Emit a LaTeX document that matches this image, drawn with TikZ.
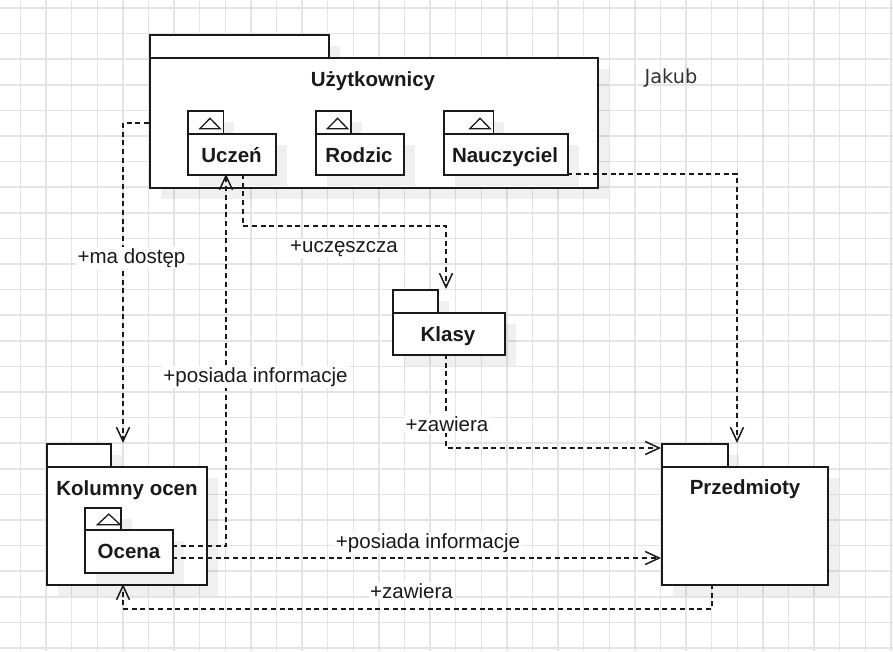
\documentclass[tikz,border=0pt]{standalone}
\usepackage{fontspec}
\setmainfont{Liberation Sans}
\newfontfamily\jakubfont{DejaVu Sans}
\usetikzlibrary{arrows.meta,shadows,calc}
\definecolor{gridc}{HTML}{E4E4E4}
\definecolor{ink}{HTML}{1A1A1A}
\definecolor{jak}{HTML}{333333}
\tikzset{
  gridline/.style={draw=gridc,line width=1.5pt},
  shd/.style={drop shadow={shadow xshift=11pt,shadow yshift=-11pt,fill=black,opacity=0.06}},
  pkg/.style 2 args={draw=ink,line width=1.8pt,fill=white,inner sep=0pt,anchor=north west,
    minimum width=#1pt,minimum height=#2pt,shd},
  tri/.style={draw=ink,line width=1.3pt},
  title/.style={font=\bfseries\fontsize{20.5}{24}\selectfont,text=ink,anchor=base,inner sep=0pt},
  lbl/.style={font=\fontsize{20.5}{24}\selectfont,text=ink,anchor=base,fill=white,inner sep=1.5pt},
  dep/.style={draw=ink,line width=1.5pt,dash pattern=on 5pt off 3.7pt,
    -{Straight Barb[length=14pt,width=13pt]}},
}
\begin{document}
\begin{tikzpicture}[x=1pt,y=-1pt]
\fill[white] (0,0) rectangle (893,651);
\useasboundingbox (0,0) rectangle (893,651);
\foreach \i in {0,...,34} \draw[gridline] ({20.5+25.6*\i},0) -- ({20.5+25.6*\i},651);
\foreach \j in {0,...,25} \draw[gridline] (0,{8+25.6*\j}) -- (893,{8+25.6*\j});

% Uzytkownicy
\node[pkg={179}{23}] (uzt) at (149,34) {};
\node[pkg={448}{130}] (uz) at (149,57) {};
\node[title] (uzl) at (373,86) {Użytkownicy};
% Uczen
\node[pkg={35.5}{23}] (uct) at (187,110) {};
\node[pkg={88}{41}] (uc) at (187,133) {};
\draw[tri] ($(uct.south east)+(-4,-6)$) -- ++(-10.25,-10.5) -- ++(-10.25,10.5) -- cycle;
\node[title] (ucl) at (231.5,162) {Uczeń};
% Rodzic
\node[pkg={35}{23}] (rot) at (315,110) {};
\node[pkg={88}{41}] (ro) at (315,133) {};
\draw[tri] ($(rot.south east)+(-4,-6)$) -- ++(-10.25,-10.5) -- ++(-10.25,10.5) -- cycle;
\node[title] (rol) at (359,162) {Rodzic};
% Nauczyciel
\node[pkg={49.5}{23}] (nat) at (443,110) {};
\node[pkg={124}{41}] (na) at (443,133) {};
\draw[tri] ($(nat.south east)+(-4,-6)$) -- ++(-10.25,-10.5) -- ++(-10.25,10.5) -- cycle;
\node[title] (nal) at (505,162) {Nauczyciel};

% Klasy
\node[pkg={45}{23}] (klt) at (392,289) {};
\node[pkg={112}{42}] (kl) at (392,312) {};
\node[title] (kll) at (448,341) {Klasy};

% Kolumny ocen
\node[pkg={64}{23}] (kot) at (46,443) {};
\node[pkg={160}{118}] (ko) at (46,466) {};
\node[title] (kol) at (127,495) {Kolumny ocen};
% Ocena
\node[pkg={36}{22}] (oct) at (84,507) {};
\node[pkg={88}{43}] (oc) at (84,529) {};
\draw[tri] ($(oct.south east)+(-1.5,-6)$) -- ++(-11.5,-10.7) -- ++(-11.5,10.7) -- cycle;
\node[title] (ocl) at (129,558.5) {Ocena};

% Przedmioty
\node[pkg={66}{23}] (prt) at (661,443) {};
\node[pkg={166}{118}] (pr) at (661,466) {};
\node[title] (prl) at (745,494.5) {Przedmioty};

% connector end points
\coordinate (koin) at (123,443);
\coordinate (ucout) at (243,174);
\coordinate (klin) at (446,289);
\coordinate (ocout1) at (172,546);
\coordinate (ucin) at (226,174);
\coordinate (ocout2) at (172,558);
\coordinate (prin1) at (661,558);
\coordinate (naout) at (567,174);
\coordinate (prin2) at (737,443);
\coordinate (klout) at (446,354);
\coordinate (prin3) at (661,448);
\coordinate (prout) at (712,584);
\coordinate (koin2) at (123,584);

\draw[dep] (uz.west) -| (koin);
\draw[dep] (ucout) -- ++(0,52) -| (klin);
\draw[dep] (ocout1) -| (ucin);
\draw[dep] (ocout2) -- (prin1);
\draw[dep] (naout) -| (prin2);
\draw[dep] (klout) |- (prin3);
\draw[dep] (prout) -- ++(0,25) -| (koin2);

\node[lbl] (l1) at (131.5,263) {+ma dostęp};
\node[lbl] (l2) at (344,252.5) {+uczęszcza};
\node[lbl] (l3) at (255.5,382) {+posiada informacje};
\node[lbl] (l4) at (428,548.5) {+posiada informacje};
\node[lbl] (l5) at (447,431) {+zawiera};
\node[lbl] (l6) at (411.5,598.5) {+zawiera};

\node[font=\jakubfont\fontsize{19.3}{23}\selectfont,text=jak,anchor=base,inner sep=0pt] (jakub) at (671,83.5) {Jakub};
\end{tikzpicture}
\end{document}
